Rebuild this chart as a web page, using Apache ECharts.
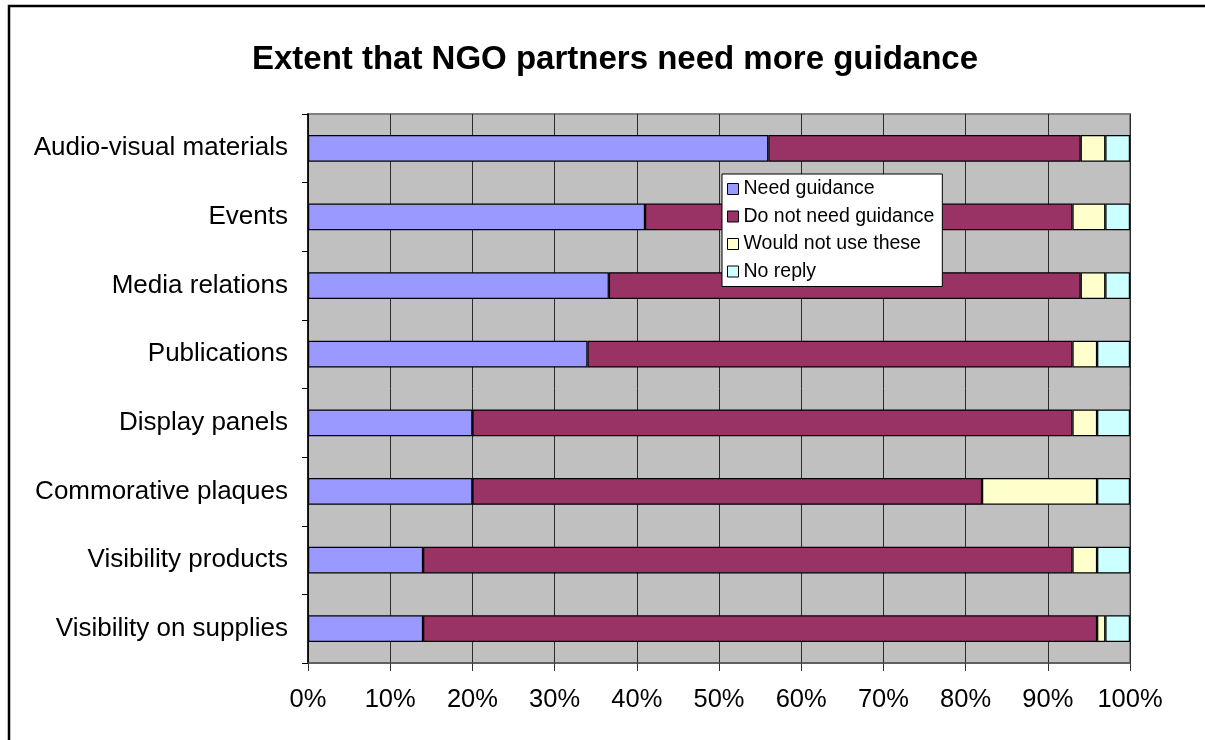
<!DOCTYPE html>
<html>
<head>
<meta charset="utf-8">
<title>Extent that NGO partners need more guidance</title>
<script src="https://cdn.jsdelivr.net/npm/echarts@6/dist/echarts.min.js"></script>
<style>
  html, body { margin: 0; padding: 0; background: #fff; }
  #chart { width: 1205px; height: 740px; }
</style>
</head>
<body>
<div id="chart"></div>
<script>
// Survey categories, top to bottom
const categories = [
  'Audio-visual materials',
  'Events',
  'Media relations',
  'Publications',
  'Display panels',
  'Commorative plaques',
  'Visibility products',
  'Visibility on supplies'
];

// Share of respondents (%) per answer
const needGuidance     = [56, 41, 36.6, 34, 20, 20, 14, 14];
const doNotNeed        = [38, 52, 57.4, 59, 73, 62, 79, 82];
const wouldNotUse      = [3, 4, 3, 3, 3, 14, 3, 1];
const noReply          = [3, 3, 3, 4, 4, 4, 4, 3];

const seriesNames = ['Need guidance', 'Do not need guidance', 'Would not use these', 'No reply'];
const seriesColors = ['#9999FF', '#993366', '#FFFFCC', '#CCFFFF'];
const seriesValues = [needGuidance, doNotNeed, wouldNotUse, noReply];

const xTicks = [0, 10, 20, 30, 40, 50, 60, 70, 80, 90, 100];

const FONT = '"Liberation Sans", Arial, Helvetica, sans-serif';

const chart = echarts.init(document.getElementById('chart'), null, { renderer: 'canvas' });

chart.setOption({
  animation: false,
  backgroundColor: '#ffffff',
  textStyle: { fontFamily: FONT, color: '#000' },
  title: {
    text: 'Extent that NGO partners need more guidance',
    left: 610,
    textAlign: 'center',
    top: 38,
    textStyle: { fontFamily: FONT, fontSize: 33, fontWeight: 'bold', color: '#000' }
  },
  graphic: [{
    type: 'rect',
    silent: true,
    z: 100,
    shape: { x: 9, y: 6, width: 1400, height: 900 },
    style: { fill: 'none', stroke: '#000', lineWidth: 2.5 }
  }],
  legend: {
    orient: 'vertical',
    left: 722,
    top: 174,
    backgroundColor: '#ffffff',
    borderColor: '#000',
    borderWidth: 1,
    borderRadius: 0,
    padding: [5, 8, 5, 5],
    itemGap: 7.5,
    itemWidth: 11,
    itemHeight: 11,
    icon: 'rect',
    itemStyle: { borderColor: '#000', borderWidth: 1 },
    textStyle: { fontFamily: FONT, fontSize: 19.5, lineHeight: 20, color: '#000' },
    data: seriesNames
  },
  grid: {
    left: 308,
    right: 75,
    top: 114,
    bottom: 77,
    show: true,
    backgroundColor: '#C0C0C0',
    borderColor: '#808080',
    borderWidth: 2
  },
  xAxis: {
    type: 'value',
    min: xTicks[0],
    max: xTicks[xTicks.length - 1],
    interval: 10,
    axisLine: { show: true, lineStyle: { color: '#555', width: 1.5 } },
    axisTick: { show: true, length: 8, lineStyle: { color: '#333' } },
    axisLabel: {
      fontFamily: FONT, fontSize: 25.5, color: '#000', margin: 24,
      formatter: v => v + '%'
    },
    splitLine: { show: true, lineStyle: { color: '#2a2a2a', width: 1 } }
  },
  yAxis: {
    type: 'category',
    inverse: true,
    data: categories,
    axisLine: { show: true, lineStyle: { color: '#000', width: 1.5 } },
    axisTick: { show: true, length: 6, alignWithLabel: false, lineStyle: { color: '#000' } },
    axisLabel: { fontFamily: FONT, fontSize: 26, color: '#000', margin: 20 },
    splitLine: { show: false }
  },
  series: seriesNames.map((name, i) => ({
    name: name,
    type: 'bar',
    stack: 'total',
    barCategoryGap: '61%',
    data: seriesValues[i],
    itemStyle: { color: seriesColors[i], borderColor: '#000', borderWidth: 1.2 },
    emphasis: { disabled: true }
  }))
});
</script>
</body>
</html>
